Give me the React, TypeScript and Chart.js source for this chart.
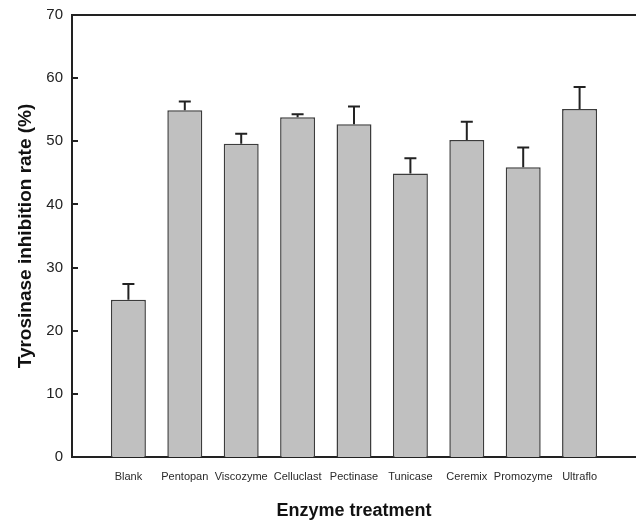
import React, { useEffect, useRef } from "react";
import { Chart, registerables } from "chart.js";

Chart.register(...registerables);

const categories = [
  "Blank",
  "Pentopan",
  "Viscozyme",
  "Celluclast",
  "Pectinase",
  "Tunicase",
  "Ceremix",
  "Promozyme",
  "Ultraflo",
];
const inhibitionRate = [24.9, 54.9, 49.6, 53.8, 52.7, 44.9, 50.2, 45.9, 55.1];
const errorValues = [2.5, 1.4, 1.6, 0.5, 2.8, 2.4, 2.9, 3.1, 3.5];
const yTicks = [0, 10, 20, 30, 40, 50, 60, 70];

const FONT = "'Liberation Sans', Arial, sans-serif";

const errorBarPlugin = {
  id: "errorBars",
  afterDatasetsDraw(chart: any) {
    const meta = chart.getDatasetMeta(0);
    const yScale = chart.scales.y;
    const ctx = chart.ctx;
    ctx.save();
    ctx.strokeStyle = "#222";
    ctx.lineWidth = 2;
    const errs: (number | null)[] = [null, ...errorValues, null];
    const vals: (number | null)[] = [null, ...inhibitionRate, null];
    meta.data.forEach((el: any, i: number) => {
      const v = vals[i];
      const e = errs[i];
      if (v == null || e == null) return;
      const x = el.x;
      const y0 = yScale.getPixelForValue(v);
      const y1 = yScale.getPixelForValue(v + e);
      ctx.beginPath();
      ctx.moveTo(x, y0);
      ctx.lineTo(x, y1);
      ctx.moveTo(x - 6, y1);
      ctx.lineTo(x + 6, y1);
      ctx.stroke();
    });
    ctx.restore();
  },
};

const framePlugin = {
  id: "frame",
  afterDraw(chart: any) {
    const { ctx, chartArea } = chart;
    const yScale = chart.scales.y;
    ctx.save();
    ctx.strokeStyle = "#222";
    ctx.lineWidth = 2;
    ctx.beginPath();
    ctx.moveTo(chartArea.left - 1, chartArea.top);
    ctx.lineTo(chartArea.right, chartArea.top);
    ctx.stroke();
    yTicks.forEach((t) => {
      if (t === 0 || t === 70) return;
      const y = Math.round(yScale.getPixelForValue(t));
      ctx.beginPath();
      ctx.moveTo(chartArea.left, y);
      ctx.lineTo(chartArea.left + 6, y);
      ctx.stroke();
    });
    ctx.restore();
  },
};

export default function App() {
  const canvasRef = useRef<HTMLCanvasElement | null>(null);

  useEffect(() => {
    document.body.style.margin = "0";
    const canvas = canvasRef.current;
    if (!canvas) return;
    const labels = ["", ...categories, ""];
    const data = [null, ...inhibitionRate, null];
    const chart = new Chart(canvas, {
      type: "bar",
      data: {
        labels,
        datasets: [
          {
            data: data as any,
            backgroundColor: "#c0c0c0",
            borderColor: "#3c3c3c",
            borderWidth: 1.5,
            categoryPercentage: 1,
            barPercentage: 0.62,
          },
        ],
      },
      options: {
        animation: false,
        responsive: false,
        devicePixelRatio: 1,
        layout: { padding: { top: 15, right: 0, left: 0, bottom: 0 } },
        plugins: {
          legend: { display: false },
          tooltip: { enabled: false },
        },
        scales: {
          x: {
            type: "category",
            offset: false,
            grid: { display: false, drawTicks: false },
            border: { display: true, color: "#222", width: 2 },
            ticks: {
              autoSkip: false,
              maxRotation: 0,
              minRotation: 0,
              padding: 13,
              color: "#2a2a2a",
              font: { family: FONT, size: 11 },
            },
            title: {
              display: true,
              text: "Enzyme treatment",
              color: "#111",
              font: { family: FONT, size: 18, weight: "bold" },
              padding: { top: 0, bottom: 1 },
            },
            afterFit(scale: any) {
              scale.height = 66;
              scale.paddingLeft = 0;
              scale.paddingRight = 0;
            },
          },
          y: {
            min: 0,
            max: 70,
            grid: { display: false, drawTicks: false },
            border: { display: true, color: "#222", width: 2 },
            ticks: {
              stepSize: 10,
              padding: 9,
              color: "#222",
              font: { family: FONT, size: 15 },
            },
            title: {
              display: true,
              text: "Tyrosinase inhibition rate (%)",
              color: "#111",
              font: { family: FONT, size: 19, weight: "bold" },
              padding: { top: 14, bottom: 0 },
            },
            afterFit(scale: any) {
              scale.width = 72;
              scale.paddingTop = 0;
              scale.paddingBottom = 0;
            },
          },
        },
      },
      plugins: [errorBarPlugin, framePlugin],
    });
    return () => chart.destroy();
  }, []);

  return (
    <div style={{ width: 636, height: 523 }}>
      <canvas ref={canvasRef} width={636} height={523} />
    </div>
  );
}
